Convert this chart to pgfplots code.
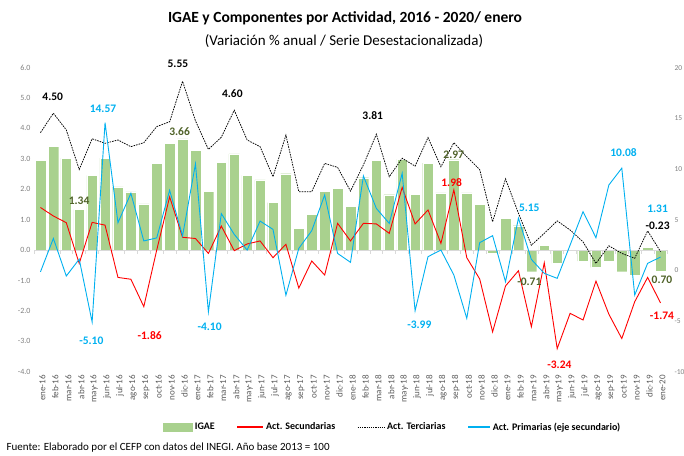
\documentclass[border=0pt]{standalone}
\usepackage{pgfplots}
\pgfplotsset{compat=1.18}
\usepackage{fontspec}
\setmainfont{Carlito}
\definecolor{igae}{HTML}{A9D18E}
\definecolor{secred}{HTML}{FF0000}
\definecolor{primblue}{HTML}{00B0F0}
\definecolor{lblgreen}{HTML}{4F6228}
\definecolor{ticklbl}{HTML}{808080}
\definecolor{xlbl}{HTML}{595959}
\definecolor{basegray}{HTML}{D9D9D9}
\begin{document}
\begin{tikzpicture}
\useasboundingbox (0,0) rectangle (684pt,455pt);
\node at (345pt,437pt) {\fontsize{15.5}{18}\selectfont\bfseries IGAE y Componentes por Actividad, 2016 - 2020/ enero};
\node at (344pt,414pt) {\fontsize{15}{18}\selectfont (Variación \% anual / Serie Desestacionalizada)};
\node[anchor=west] at (3pt,7pt) {\fontsize{11}{12}\selectfont Fuente: Elaborado por el CEFP con datos del INEGI. Año base 2013 = 100};
\begin{axis}[
  at={(34pt,83.3pt)}, anchor=south west, scale only axis,
  width=633pt, height=304.1pt,
  xmin=-0.5, xmax=48.5, ymin=-4, ymax=6,
  clip=false,
  axis line style={draw=none},
  major tick length=0pt,
  ytick={-4,-3,...,6},
  yticklabel style={font=\fontsize{8}{9}\selectfont, text=ticklbl,
    /pgf/number format/fixed, /pgf/number format/fixed zerofill,
    /pgf/number format/precision=1, /pgf/number format/assume math mode=true},
  xtick={0,...,48},
  xticklabels={ene-16,feb-16,mar-16,abr-16,may-16,jun-16,jul-16,ago-16,sep-16,oct-16,nov-16,dic-16,
    ene-17,feb-17,mar-17,abr-17,may-17,jun-17,jul-17,ago-17,sep-17,oct-17,nov-17,dic-17,
    ene-18,feb-18,mar-18,abr-18,may-18,jun-18,jul-18,ago-18,sep-18,oct-18,nov-18,dic-18,
    ene-19,feb-19,mar-19,abr-19,may-19,jun-19,jul-19,ago-19,sep-19,oct-19,nov-19,dic-19,ene-20},
  xticklabel style={rotate=90, anchor=east, font=\fontsize{9}{10}\selectfont, text=xlbl, yshift=-2pt},
]
\addplot[ybar, bar width=10.6pt, fill=igae, draw=white, line width=0.3pt] coordinates {
(0,2.96) (1,3.42) (2,3.02) (3,1.34) (4,2.46) (5,3.02) (6,2.08) (7,1.91) (8,1.52) (9,2.86)
(10,3.51) (11,3.66) (12,3.27) (13,1.93) (14,2.89) (15,3.16) (16,2.46) (17,2.31) (18,1.56) (19,2.51)
(20,0.71) (21,1.17) (22,1.93) (23,2.03) (24,1.43) (25,2.38) (26,2.96) (27,1.82) (28,2.99) (29,1.84)
(30,2.86) (31,1.88) (32,2.97) (33,1.88) (34,1.50) (35,-0.11) (36,1.05) (37,0.80) (38,-0.71) (39,0.15)
(40,-0.44) (41,-0.02) (42,-0.36) (43,-0.57) (44,-0.36) (45,-0.71) (46,-0.82) (47,0.09) (48,-0.70)};
\draw[basegray, line width=1pt] (axis cs:-0.5,0) -- (axis cs:48.5,0);
\pgfplotsinvokeforeach{-0.5,0.5,...,48.5}{\draw[basegray, line width=0.6pt] (axis cs:#1,0) -- ++(0pt,-4pt);}
\addplot[secred, line width=0.9pt, mark=none] coordinates {
(0,1.40) (1,1.12) (2,0.90) (3,-0.44) (4,0.91) (5,0.82) (6,-0.90) (7,-0.96) (8,-1.86) (9,0.00)
(10,1.75) (11,0.42) (12,0.38) (13,-0.11) (14,0.79) (15,-0.02) (16,0.20) (17,0.30) (18,-0.25) (19,0.19)
(20,-1.25) (21,-0.36) (22,-0.82) (23,0.88) (24,0.30) (25,0.88) (26,0.86) (27,0.55) (28,2.06) (29,0.86)
(30,1.32) (31,0.22) (32,1.98) (33,-0.25) (34,-0.95) (35,-2.69) (36,-1.18) (37,-0.68) (38,-2.52) (39,-0.42)
(40,-3.24) (41,-2.08) (42,-2.30) (43,-1.02) (44,-2.11) (45,-2.91) (46,-1.70) (47,-0.90) (48,-1.74)};
\addplot[black, line width=0.75pt, dash pattern=on 1.6pt off 1pt, mark=none] coordinates {
(0,3.86) (1,4.50) (2,3.95) (3,2.65) (4,3.66) (5,3.51) (6,3.62) (7,3.40) (8,3.53) (9,4.06)
(10,4.22) (11,5.55) (12,4.25) (13,3.31) (14,3.71) (15,4.60) (16,3.62) (17,3.40) (18,2.41) (19,3.78)
(20,1.92) (21,1.92) (22,2.85) (23,2.72) (24,1.94) (25,2.80) (26,3.81) (27,2.41) (28,3.02) (29,2.76)
(30,3.70) (31,2.74) (32,3.53) (33,3.07) (34,2.65) (35,0.93) (36,2.34) (37,1.21) (38,0.16) (39,0.55)
(40,0.96) (41,0.66) (42,0.27) (43,-0.44) (44,0.14) (45,-0.11) (46,-0.27) (47,0.63) (48,-0.05)};
% data labels
\begin{scope}[every node/.style={font=\fontsize{11.5}{12}\selectfont\bfseries, inner sep=0pt}]
\node[black] at (axis cs:0.95,5.04) {4.50};
\node[black] at (axis cs:10.64,6.12) {5.55};
\node[black] at (axis cs:14.85,5.15) {4.60};
\node[black] at (axis cs:25.72,4.41) {3.81};
\node[black] at (axis cs:47.77,0.79) {-0.23};
\node[lblgreen] at (axis cs:2.99,1.61) {1.34};
\node[lblgreen] at (axis cs:10.77,3.89) {3.66};
\node[lblgreen] at (axis cs:31.99,3.15) {2.97};
\node[lblgreen] at (axis cs:37.84,-1.04) {-0.71};
\node[lblgreen] at (axis cs:48.11,-0.99) {0.70};
\node[secred] at (axis cs:8.45,-2.81) {-1.86};
\node[secred] at (axis cs:31.83,2.21) {1.98};
\node[secred] at (axis cs:40.17,-3.78) {-3.24};
\node[secred] at (axis cs:48.11,-2.17) {-1.74};
\node[primblue] at (axis cs:4.84,4.66) {14.57};
\node[primblue] at (axis cs:3.94,-2.99) {-5.10};
\node[primblue] at (axis cs:13.09,-2.52) {-4.10};
\node[primblue] at (axis cs:29.33,-2.47) {-3.99};
\node[primblue] at (axis cs:37.84,1.39) {5.15};
\node[primblue] at (axis cs:45.14,3.19) {10.08};
\node[primblue] at (axis cs:47.77,1.37) {1.31};
\end{scope}
\end{axis}
\begin{axis}[
  at={(34pt,83.3pt)}, anchor=south west, scale only axis,
  width=633pt, height=304.1pt,
  xmin=-0.5, xmax=48.5, ymin=-10, ymax=20,
  axis y line*=right, axis x line=none,
  axis line style={draw=none},
  major tick length=0pt,
  xtick=\empty,
  ytick={-10,-5,...,20},
  yticklabel style={font=\fontsize{7.5}{9}\selectfont, text=ticklbl, anchor=west, xshift=4pt,
    /pgf/number format/assume math mode=true},
  legend columns=4,
  legend style={at={(0.567,-0.182)}, anchor=center, draw=none, fill=none,
    font=\fontsize{10}{11}\selectfont\bfseries,
    /tikz/every even column/.append style={column sep=20pt}},
]
\addlegendimage{legend image code/.code={\fill[igae] (0pt,-4pt) rectangle (29pt,4pt);}}
\addlegendentry{IGAE}
\addlegendimage{legend image code/.code={\draw[secred, line width=1.2pt] (0pt,0pt) -- (26pt,0pt);}}
\addlegendentry{Act. Secundarias}
\addlegendimage{legend image code/.code={\draw[black, line width=0.75pt, dash pattern=on 1.2pt off 1pt] (0pt,0pt) -- (27pt,0pt);}}
\addlegendentry{Act. Terciarias}
\addplot[primblue, line width=0.9pt, mark=none,
  legend image code/.code={\draw[primblue, line width=1.2pt] (0pt,0pt) -- (22pt,0pt);}] coordinates {
(0,-0.15) (1,3.15) (2,-0.56) (3,1.10) (4,-5.10) (5,14.57) (6,4.70) (7,7.60) (8,2.90) (9,3.20)
(10,7.90) (11,3.40) (12,10.50) (13,-4.10) (14,5.60) (15,3.55) (16,2.00) (17,4.86) (18,4.04) (19,-2.46)
(20,2.17) (21,3.91) (22,7.43) (23,1.67) (24,0.79) (25,9.31) (26,6.11) (27,4.63) (28,9.57) (29,-3.99)
(30,1.35) (31,2.00) (32,-0.46) (33,-4.74) (34,2.73) (35,3.42) (36,-1.13) (37,5.15) (38,1.08) (39,-0.30)
(40,-0.79) (41,2.50) (42,5.79) (43,3.22) (44,8.42) (45,10.08) (46,-2.44) (47,0.69) (48,1.31)};
\addlegendentry{Act. Primarias (eje secundario)}
\end{axis}
\end{tikzpicture}
\end{document}
